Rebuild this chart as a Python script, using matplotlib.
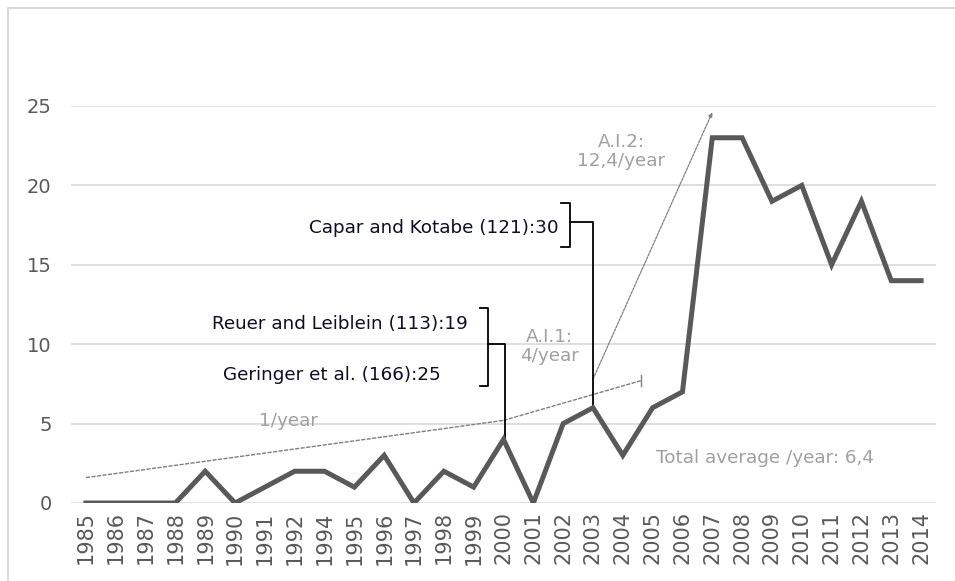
import matplotlib
matplotlib.use("Agg")
import matplotlib.pyplot as plt
from matplotlib.lines import Line2D

plt.rcParams['font.family'] = ['DejaVu Sans']

years = ['1985', '1986', '1987', '1988', '1989', '1990', '1991', '1992', '1994',
         '1995', '1996', '1997', '1998', '1999', '2000', '2001', '2002', '2003',
         '2004', '2005', '2006', '2007', '2008', '2009', '2010', '2011', '2012',
         '2013', '2014']
counts = [0, 0, 0, 0, 2, 0, 1, 2, 2, 1, 3, 0, 2, 1, 4, 0, 5, 6, 3, 6, 7, 23, 23,
          19, 20, 15, 19, 14, 14]

# trend lines (x as category index, y as value)
trend_base_x = [0, 14]
trend_base_y = [1.6, 5.2]
trend_ai1_x = [14, 18.6]
trend_ai1_y = [5.2, 7.7]
trend_ai2_x = [17, 21]
trend_ai2_y = [7.8, 24.6]

fig = plt.figure(figsize=(9.55, 5.81), dpi=100)
ax = fig.add_axes([71 / 955, 78 / 581, 865 / 955, 397 / 581])

x = list(range(len(years)))
ax.plot(x, counts, color='#595959', lw=3.6, solid_joinstyle='miter', zorder=3)

grey = '#7f7f7f'
ax.plot(trend_base_x, trend_base_y, color=grey, lw=1, ls=(0, (3, 1)), zorder=2)
ax.plot(trend_ai1_x, trend_ai1_y, color=grey, lw=1, ls=(0, (3, 1)), zorder=2)
ax.plot([trend_ai1_x[1]] * 2, [trend_ai1_y[1] - 0.35, trend_ai1_y[1] + 0.35],
        color=grey, lw=1, zorder=2)
ax.annotate('', xy=(trend_ai2_x[1], trend_ai2_y[1]),
            xytext=(trend_ai2_x[0], trend_ai2_y[0]),
            arrowprops=dict(arrowstyle='-|>', color=grey, lw=0.9, ls=(0, (2, 1)),
                            mutation_scale=6, shrinkA=0, shrinkB=0), zorder=2)

# brackets
k = 'black'
ax.plot([13.22, 13.49, 13.49, 13.22], [12.3, 12.3, 7.35, 7.35], color=k, lw=1.3)
ax.plot([13.49, 14.05, 14.05], [10, 10, 4], color=k, lw=1.3)
ax.plot([15.94, 16.24, 16.24, 15.94], [18.9, 18.9, 16.1, 16.1], color=k, lw=1.3)
ax.plot([16.24, 17.0, 17.0], [17.7, 17.7, 6], color=k, lw=1.3)

tk = '#0d0d26'
fs = 13.2
ax.text(12.8, 11.3, 'Reuer and Leiblein (113):19', ha='right', va='center',
        fontsize=fs, color=tk)
ax.text(11.9, 8.05, 'Geringer et al. (166):25', ha='right', va='center',
        fontsize=fs, color=tk)
ax.text(15.84, 17.3, 'Capar and Kotabe (121):30', ha='right', va='center',
        fontsize=fs, color=tk)

lt = '#a0a0a0'
ax.text(15.55, 9.85, 'A.I.1:\n4/year', ha='center', va='center', fontsize=fs,
        color=lt, linespacing=1.1)
ax.text(17.95, 22.15, 'A.I.2:\n12,4/year', ha='center', va='center', fontsize=fs,
        color=lt, linespacing=1.1)
ax.text(6.8, 5.15, '1/year', ha='center', va='center', fontsize=fs, color=lt)
ax.text(19.1, 2.85, 'Total average /year: 6,4', ha='left', va='center',
        fontsize=fs, color=lt)

ax.set_xlim(-0.5, len(years) - 0.5)
ax.set_ylim(0, 25)
ax.set_yticks([0, 5, 10, 15, 20, 25])
ax.set_xticks(x)
ax.set_xticklabels(years, rotation=90)
ax.tick_params(axis='both', length=0, colors='#595959')
ax.tick_params(axis='y', pad=14, labelsize=14)
ax.tick_params(axis='x', pad=6, labelsize=15)
ax.grid(axis='y', color='#d9d9d9', lw=1.2)
ax.set_axisbelow(True)
for s in ax.spines.values():
    s.set_visible(False)

# chart border (top and left visible)
fig.add_artist(Line2D([8 / 955, 1], [1 - 8 / 581] * 2, color='#d9d9d9', lw=1.5,
                      transform=fig.transFigure))
fig.add_artist(Line2D([8 / 955] * 2, [0, 1 - 8 / 581], color='#d9d9d9', lw=1.5,
                      transform=fig.transFigure))

fig.savefig('out.png', dpi=100)
